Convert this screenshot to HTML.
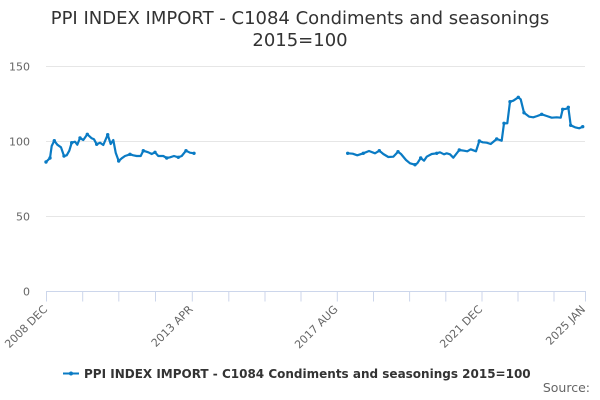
<!DOCTYPE html>
<html>
<head>
<meta charset="utf-8">
<style>
  html, body { margin: 0; padding: 0; background: #ffffff; }
  svg { display: block; font-family: "DejaVu Sans", "Liberation Sans", sans-serif; }
</style>
</head>
<body>
<svg width="600" height="400" viewBox="0 0 600 400" xmlns="http://www.w3.org/2000/svg">
  <rect x="0" y="0" width="600" height="400" fill="#ffffff"/>

  <!-- Title -->
  <text x="300" y="24" text-anchor="middle" font-size="18" fill="#333333">PPI INDEX IMPORT - C1084 Condiments and seasonings</text>
  <text x="300" y="46" text-anchor="middle" font-size="18" fill="#333333">2015=100</text>

  <!-- Gridlines -->
  <g stroke="#e6e6e6" stroke-width="1">
    <line x1="46" y1="66.5" x2="585" y2="66.5"/>
    <line x1="46" y1="141.5" x2="585" y2="141.5"/>
    <line x1="46" y1="216.5" x2="585" y2="216.5"/>
  </g>

  <!-- Y labels -->
  <g font-size="11" fill="#666666" text-anchor="end">
    <text x="30" y="70.5">150</text>
    <text x="30" y="145.5">100</text>
    <text x="30" y="220.5">50</text>
    <text x="30" y="295.5">0</text>
  </g>

  <!-- X axis line and ticks -->
  <g stroke="#ccd6eb" stroke-width="1">
    <line x1="46" y1="291.5" x2="586" y2="291.5"/>
    <line x1="46.5" y1="291.5" x2="46.5" y2="301.5"/>
    <line x1="82.7" y1="291.5" x2="82.7" y2="301.5"/>
    <line x1="118.8" y1="291.5" x2="118.8" y2="301.5"/>
    <line x1="155.5" y1="291.5" x2="155.5" y2="301.5"/>
    <line x1="192.3" y1="291.5" x2="192.3" y2="301.5"/>
    <line x1="228.8" y1="291.5" x2="228.8" y2="301.5"/>
    <line x1="265" y1="291.5" x2="265" y2="301.5"/>
    <line x1="301" y1="291.5" x2="301" y2="301.5"/>
    <line x1="337.3" y1="291.5" x2="337.3" y2="301.5"/>
    <line x1="373.5" y1="291.5" x2="373.5" y2="301.5"/>
    <line x1="409.6" y1="291.5" x2="409.6" y2="301.5"/>
    <line x1="445.8" y1="291.5" x2="445.8" y2="301.5"/>
    <line x1="482" y1="291.5" x2="482" y2="301.5"/>
    <line x1="518" y1="291.5" x2="518" y2="301.5"/>
    <line x1="554" y1="291.5" x2="554" y2="301.5"/>
    <line x1="585.5" y1="291.5" x2="585.5" y2="301.5"/>
  </g>

  <!-- X labels -->
  <g font-size="11" fill="#666666" text-anchor="end">
    <text x="48" y="310" transform="rotate(-45 48 310)">2008 DEC</text>
    <text x="193.5" y="310" transform="rotate(-45 193.5 310)">2013 APR</text>
    <text x="338.5" y="310" transform="rotate(-45 338.5 310)">2017 AUG</text>
    <text x="483" y="310" transform="rotate(-45 483 310)">2021 DEC</text>
    <text x="586" y="310" transform="rotate(-45 586 310)">2025 JAN</text>
  </g>

  <!-- Series -->
  <g fill="none" stroke="#0a7bc4" stroke-width="2.2" stroke-linejoin="round" stroke-linecap="round">
    <polyline points="46,162 50,158 51.7,146 54.3,140.7 57.3,144.7 61,147.3 64,156 66.7,155.3 69.3,150.7 71.7,142.7 75,141.7 77.3,144.7 80,138 83.3,140 87.3,134.3 91.7,138.3 94,139.3 96.7,144.3 100,142.7 103.3,145 107.7,134.7 110.7,144 113.3,140 115.7,152.7 118.7,161 121.7,158.3 125,156 130,154.3 133.3,155.3 136.7,156 140.7,156 143.3,150.7 148.3,152.3 151.7,154 155,152.3 158.3,156 163.3,156 166.7,158 170,157.3 174,156 178.3,157.3 181.7,156 186,150.7 190,152.7 194,153.3"/>
    <polyline points="347.7,153.3 352.7,153.7 357.3,155.3 363.3,153.3 369,151 375,153.3 379.3,150.7 383.3,154 388.3,157 393.3,156.7 398,151.7 401,154 406,160 410,163.3 415,164.7 417.3,163.3 420.7,158 424,160.7 426.7,156.7 431.7,154 436.7,153.3 440,152.3 444,154.3 446.7,153.3 450,154.3 453.3,157.7 459.3,150 464,150.7 467.3,151.3 470.7,149.3 476,151.3 479.3,141 482.7,142.3 486.7,142.7 490.7,144 496.7,139 501.7,140.7 504,123.3 507.3,123.3 510,101.7 513.3,100.7 518.3,97.3 520.7,99.3 524,112.7 529.3,116.7 533.3,117.3 537.3,116 541.7,114.3 546.7,116 551.7,117.7 556.7,117.3 560.7,117.7 562.7,109.3 566.7,108.7 568.3,107.3 570.7,125.3 575,127.3 579.3,128.3 582.7,126.7"/>
  </g>
  <g fill="#0a7bc4">
    <circle cx="46" cy="162" r="1.7"/><circle cx="50" cy="158" r="1.7"/><circle cx="54.3" cy="140.7" r="1.7"/>
    <circle cx="64" cy="156" r="1.7"/><circle cx="71.7" cy="142.7" r="1.7"/><circle cx="80" cy="138" r="1.7"/>
    <circle cx="87.3" cy="134.3" r="1.7"/><circle cx="96.7" cy="144.3" r="1.7"/><circle cx="107.7" cy="134.7" r="1.7"/>
    <circle cx="118.7" cy="161" r="1.7"/><circle cx="130" cy="154.3" r="1.7"/><circle cx="143.3" cy="150.7" r="1.7"/>
    <circle cx="155" cy="152.3" r="1.7"/><circle cx="166.7" cy="158" r="1.7"/><circle cx="178.3" cy="157.3" r="1.7"/>
    <circle cx="186" cy="150.7" r="1.7"/><circle cx="194" cy="153.3" r="1.7"/>
    <circle cx="347.7" cy="153.3" r="1.7"/><circle cx="363.3" cy="153.3" r="1.7"/><circle cx="379.3" cy="150.7" r="1.7"/>
    <circle cx="398" cy="151.7" r="1.7"/><circle cx="415" cy="164.7" r="1.7"/><circle cx="420.7" cy="158" r="1.7"/>
    <circle cx="436.7" cy="153.3" r="1.7"/><circle cx="459.3" cy="150" r="1.7"/><circle cx="479.3" cy="141" r="1.7"/>
    <circle cx="496.7" cy="139" r="1.7"/><circle cx="504" cy="123.3" r="1.7"/><circle cx="510" cy="101.7" r="1.7"/>
    <circle cx="518.3" cy="97.3" r="1.7"/><circle cx="524" cy="112.7" r="1.7"/><circle cx="541.7" cy="114.3" r="1.7"/>
    <circle cx="562.7" cy="109.3" r="1.7"/><circle cx="568.3" cy="107.3" r="1.7"/><circle cx="570.7" cy="125.3" r="1.7"/>
    <circle cx="582.7" cy="126.7" r="1.7"/>
  </g>

  <!-- Legend -->
  <line x1="63" y1="373.5" x2="79" y2="373.5" stroke="#0a7bc4" stroke-width="2"/>
  <circle cx="71" cy="373.5" r="2" fill="#0a7bc4"/>
  <text x="84" y="378" font-size="12" font-weight="bold" fill="#333333">PPI INDEX IMPORT - C1084 Condiments and seasonings 2015=100</text>

  <!-- Credits -->
  <text x="590" y="392" text-anchor="end" font-size="12.5" fill="#666666">Source:</text>
</svg>
</body>
</html>
